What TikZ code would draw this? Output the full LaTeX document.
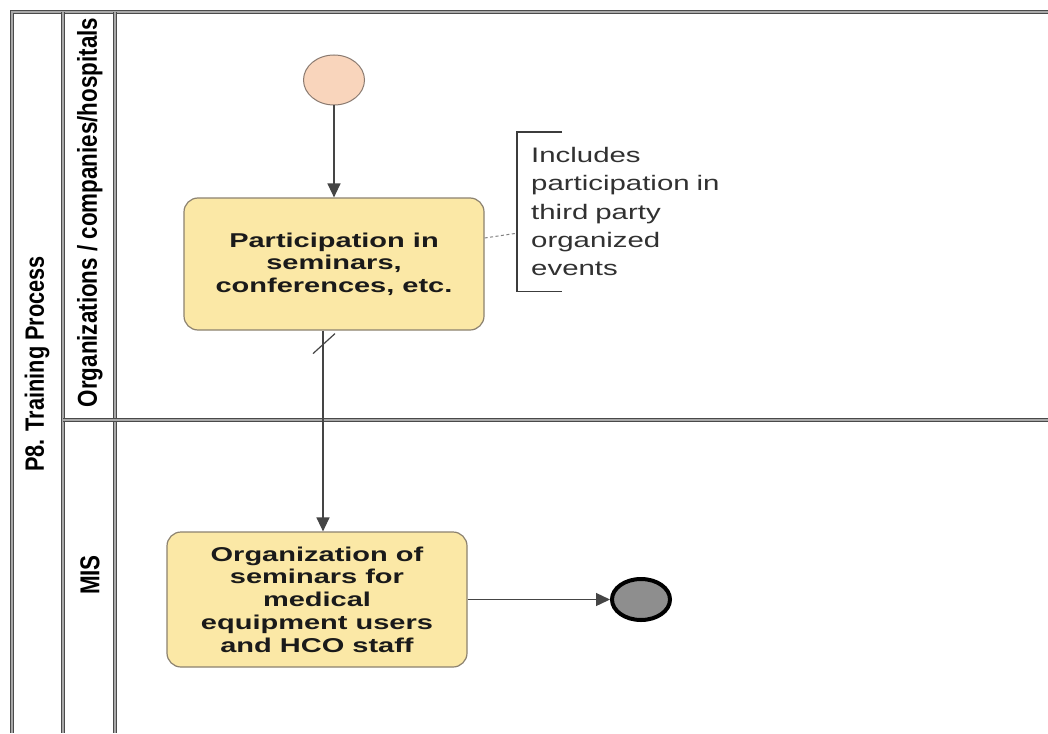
\documentclass[tikz,border=0pt]{standalone}
\usepackage{fontspec}
\setmainfont{Liberation Sans}
\newfontfamily\lanefont{Liberation Sans}[FakeStretch=0.82]
\newfontfamily\taskfont{Liberation Sans}[FakeStretch=1.45]
\newfontfamily\notefont{Liberation Sans}[FakeStretch=1.4]
\usetikzlibrary{arrows.meta,shapes.geometric,calc}

\definecolor{frameline}{HTML}{4A4A4A}
\definecolor{framecore}{HTML}{A8A8A8}
\definecolor{taskfill}{HTML}{FBE8A6}
\definecolor{taskdraw}{HTML}{8C8270}
\definecolor{startfill}{HTML}{F9D5BC}
\definecolor{startdraw}{HTML}{8A7A70}
\definecolor{endfill}{HTML}{8E8E8E}
\definecolor{flowcol}{HTML}{454545}
\definecolor{inkcol}{HTML}{1A1A1A}

\tikzset{
  frame/.style={draw=frameline, double=framecore, line width=1.5pt, double distance=1.3pt},
  lanelabel/.style={rotate=90, text=black, inner sep=0},
  poolfont/.style={font=\lanefont\bfseries\fontsize{26.5}{30}\selectfont},
  lanefontsize/.style={font=\lanefont\bfseries\fontsize{27.3}{30}\selectfont},
  taskbox/.style={draw=taskdraw, fill=taskfill, line width=1.2pt, rounded corners=14pt,
    minimum width=300pt, align=center, text=inkcol,
    font=\taskfont\bfseries\fontsize{20}{22.7}\selectfont},
  startev/.style={ellipse, draw=startdraw, fill=startfill, line width=1pt,
    minimum width=61pt, minimum height=50pt, inner sep=0},
  endev/.style={ellipse, draw=black, fill=endfill, line width=4pt,
    minimum width=58pt, minimum height=41pt, inner sep=0},
  flow/.style={draw=flowcol, line width=1.3pt,
    -{Triangle[length=14pt,width=13pt,fill=flowcol]}},
  assoc/.style={draw=gray, line width=1pt, dash pattern=on 3pt off 2.5pt},
  bracketline/.style={draw=inkcol!85, line width=1.2pt},
  notebox/.style={anchor=north west, minimum height=159pt, text width=210pt,
    inner xsep=14pt, inner ysep=0pt, align=left, text=inkcol!90,
    font=\notefont\fontsize{21}{28.3}\selectfont}
}

\begin{document}
\begin{tikzpicture}[x=1pt, y=-1pt]
  \useasboundingbox (0,0) rectangle (1048,733);
  \fill[white] (0,0) rectangle (1048,733);

  % pool and lane frame
  \draw[frame] (12,733) -- (12,12) -- (1048,12);
  \draw[frame] (63,12) -- (63,733);
  \draw[frame] (115,12) -- (115,733);
  \draw[frame] (63,420) -- (1048,420);

  % pool and lane headers
  \node[lanelabel, poolfont] (pool) at (37,364) {P8. Training Process};
  \node[lanelabel, lanefontsize] (lane1) at (90,212.5) {Organizations / companies/hospitals};
  \node[lanelabel, lanefontsize] (lane2) at (90,575) {MIS};

  % events and tasks
  \node[startev] (start) at (334,80) {};
  \node[taskbox, minimum height=132pt] (p1) at (334,264)
    {Participation in\\seminars,\\conferences, etc.};
  \node[taskbox, minimum height=135pt] (p2) at (317,599.5)
    {Organization of\\seminars for\\medical\\equipment users\\and HCO staff};
  \node[endev] (end) at (641,599.5) {};

  % text annotation with its bracket
  \node[notebox] (note) at (517,132)
    {Includes\\participation in\\third party\\organized\\events};
  \draw[bracketline] ($(note.north west)+(45,0)$) -- (note.north west)
    -- (note.south west) -- ++(45,0);
  \draw[assoc] ([yshift=26pt]p1.east) -- ([yshift=-21.5pt]note.west);

  % sequence flows
  \draw[flow] (start.south) -- (p1.north);
  \draw[flow] ([xshift=-11pt]p1.south) -- ([xshift=6pt]p2.north);
  \draw[flowcol, line width=1.2pt] ($(p1.south)+(-21,23)$) -- ($(p1.south)+(1,3)$);
  \draw[flow] (p2.east) -- (end.west);
\end{tikzpicture}
\end{document}
